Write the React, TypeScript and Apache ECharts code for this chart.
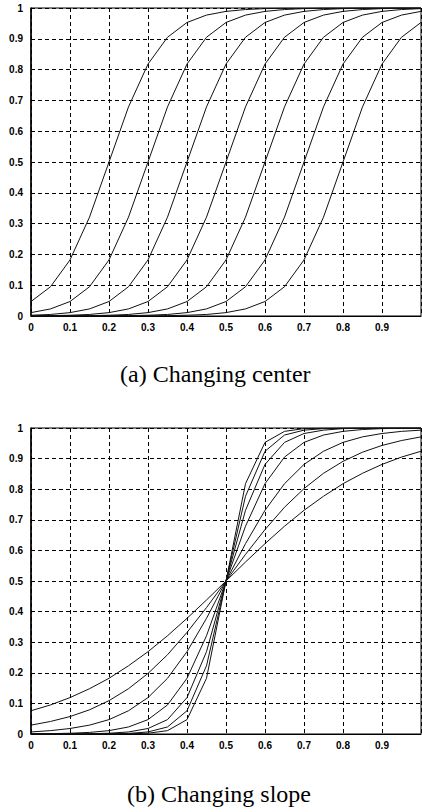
import React, { useEffect, useRef } from "react";
import * as echarts from "echarts";

// x samples (0 .. 1 step 0.05)
const xValues = [0, 0.05, 0.1, 0.15, 0.2, 0.25, 0.3, 0.35, 0.4, 0.45, 0.5, 0.55, 0.6, 0.65, 0.7, 0.75, 0.8, 0.85, 0.9, 0.95, 1];

// (a) Changing center: curves centred at 0.2 ... 0.8
const centerC02 = [0.047, 0.095, 0.182, 0.321, 0.5, 0.679, 0.818, 0.905, 0.953, 0.977, 0.989, 0.995, 0.998, 0.999, 0.999, 1, 1, 1, 1, 1, 1];
const centerC03 = [0.011, 0.023, 0.047, 0.095, 0.182, 0.321, 0.5, 0.679, 0.818, 0.905, 0.953, 0.977, 0.989, 0.995, 0.998, 0.999, 0.999, 1, 1, 1, 1];
const centerC04 = [0.0025, 0.005, 0.011, 0.023, 0.047, 0.095, 0.182, 0.321, 0.5, 0.679, 0.818, 0.905, 0.953, 0.977, 0.989, 0.995, 0.998, 0.999, 0.999, 1, 1];
const centerC05 = [0.0006, 0.0012, 0.0025, 0.005, 0.011, 0.023, 0.047, 0.095, 0.182, 0.321, 0.5, 0.679, 0.818, 0.905, 0.953, 0.977, 0.989, 0.995, 0.998, 0.999, 0.999];
const centerC06 = [0.0001, 0.0003, 0.0006, 0.0012, 0.0025, 0.005, 0.011, 0.023, 0.047, 0.095, 0.182, 0.321, 0.5, 0.679, 0.818, 0.905, 0.953, 0.977, 0.989, 0.995, 0.998];
const centerC07 = [0, 0, 0.0001, 0.0003, 0.0006, 0.0012, 0.0025, 0.005, 0.011, 0.023, 0.047, 0.095, 0.182, 0.321, 0.5, 0.679, 0.818, 0.905, 0.953, 0.977, 0.989];
const centerC08 = [0, 0, 0, 0, 0.0001, 0.0003, 0.0006, 0.0012, 0.0025, 0.005, 0.011, 0.023, 0.047, 0.095, 0.182, 0.321, 0.5, 0.679, 0.818, 0.905, 0.953];

// (b) Changing slope: curves through (0.5, 0.5) with increasing steepness
const slopeS1 = [0.076, 0.095, 0.119, 0.148, 0.182, 0.223, 0.269, 0.321, 0.378, 0.438, 0.5, 0.562, 0.622, 0.679, 0.731, 0.777, 0.818, 0.852, 0.881, 0.905, 0.924];
const slopeS2 = [0.029, 0.041, 0.057, 0.079, 0.109, 0.148, 0.198, 0.259, 0.332, 0.413, 0.5, 0.587, 0.668, 0.741, 0.802, 0.852, 0.891, 0.921, 0.943, 0.959, 0.971];
const slopeS3 = [0.0067, 0.011, 0.018, 0.029, 0.047, 0.076, 0.119, 0.182, 0.269, 0.378, 0.5, 0.622, 0.731, 0.818, 0.881, 0.924, 0.953, 0.971, 0.982, 0.989, 0.993];
const slopeS4 = [0.0006, 0.0012, 0.0025, 0.0052, 0.011, 0.023, 0.047, 0.095, 0.182, 0.321, 0.5, 0.679, 0.818, 0.905, 0.953, 0.977, 0.989, 0.995, 0.998, 0.999, 0.999];
const slopeS5 = [0, 0.0001, 0.0003, 0.0009, 0.0025, 0.0067, 0.018, 0.047, 0.119, 0.269, 0.5, 0.731, 0.881, 0.953, 0.982, 0.993, 0.998, 0.999, 1, 1, 1];
const slopeS6 = [0, 0, 0, 0.0002, 0.0006, 0.0019, 0.0067, 0.023, 0.076, 0.223, 0.5, 0.777, 0.924, 0.977, 0.993, 0.998, 0.999, 1, 1, 1, 1];
const slopeS7 = [0, 0, 0, 0, 0.0001, 0.0006, 0.0025, 0.011, 0.047, 0.182, 0.5, 0.818, 0.953, 0.989, 0.998, 0.999, 1, 1, 1, 1, 1];

const tickLabelsX = ["0", "0.1", "0.2", "0.3", "0.4", "0.5", "0.6", "0.7", "0.8", "0.9", ""];
const captions = ["(a) Changing center", "(b) Changing slope"];

const topCurves = [centerC02, centerC03, centerC04, centerC05, centerC06, centerC07, centerC08];
const bottomCurves = [slopeS1, slopeS2, slopeS3, slopeS4, slopeS5, slopeS6, slopeS7];

export default function App() {
  const ref = useRef<HTMLDivElement>(null);
  useEffect(() => {
    if (!ref.current) return;
    const chart = echarts.init(ref.current, null, { renderer: "svg" });
    const labelStyle = {
      color: "#000",
      fontFamily: "Liberation Sans",
      fontSize: 10,
      fontWeight: "bold" as const,
    };
    const gridLine = {
      show: true,
      lineStyle: { color: "#000", type: [4, 3] as any, width: 1 },
    };
    const makeX = (gridIndex: number) => ({
      type: "value",
      gridIndex,
      min: 0,
      max: 1,
      interval: 0.1,
      axisLine: { show: true, onZero: false, lineStyle: { color: "#000", width: 1 } },
      axisTick: { show: false },
      splitLine: gridLine,
      axisLabel: {
        ...labelStyle,
        margin: 6,
        showMaxLabel: false,
        formatter: (v: number) => tickLabelsX[Math.round(v * 10)] ?? "",
      },
    });
    const makeY = (gridIndex: number) => ({
      type: "value",
      gridIndex,
      min: 0,
      max: 1,
      interval: 0.1,
      axisLine: { show: true, lineStyle: { color: "#000", width: 1.5 } },
      axisTick: { show: false },
      splitLine: gridLine,
      axisLabel: {
        ...labelStyle,
        margin: 8,
        formatter: (v: number) => String(Math.round(v * 10) / 10),
      },
    });
    const mkSeries = (arr: number[], idx: number) => ({
      type: "line",
      xAxisIndex: idx,
      yAxisIndex: idx,
      data: arr.map((y, i) => [xValues[i], y]),
      showSymbol: false,
      symbol: "none",
      lineStyle: { color: "#111", width: 1 },
      silent: true,
    });
    const captionText = {
      fontFamily: "Liberation Serif",
      fontSize: 24,
      fontWeight: "normal" as const,
      color: "#000",
    };
    chart.setOption({
      animation: false,
      backgroundColor: "#fff",
      title: [
        { text: captions[0], left: 120, top: 362, padding: 0, textStyle: captionText },
        { text: captions[1], left: 127, top: 782, padding: 0, textStyle: captionText },
      ],
      grid: [
        { left: 31, right: 1, top: 8, height: 308, show: true, borderColor: "#000", borderWidth: 1 },
        { left: 31, right: 1, top: 428, height: 306, show: true, borderColor: "#000", borderWidth: 1 },
      ],
      xAxis: [makeX(0), makeX(1)],
      yAxis: [makeY(0), makeY(1)],
      series: [
        ...topCurves.map((c) => mkSeries(c, 0)),
        ...bottomCurves.map((c) => mkSeries(c, 1)),
      ],
    });
    return () => chart.dispose();
  }, []);
  return (
    <div
      ref={ref}
      style={{ position: "fixed", left: 0, top: 0, width: 422, height: 812, background: "#fff" }}
    />
  );
}
